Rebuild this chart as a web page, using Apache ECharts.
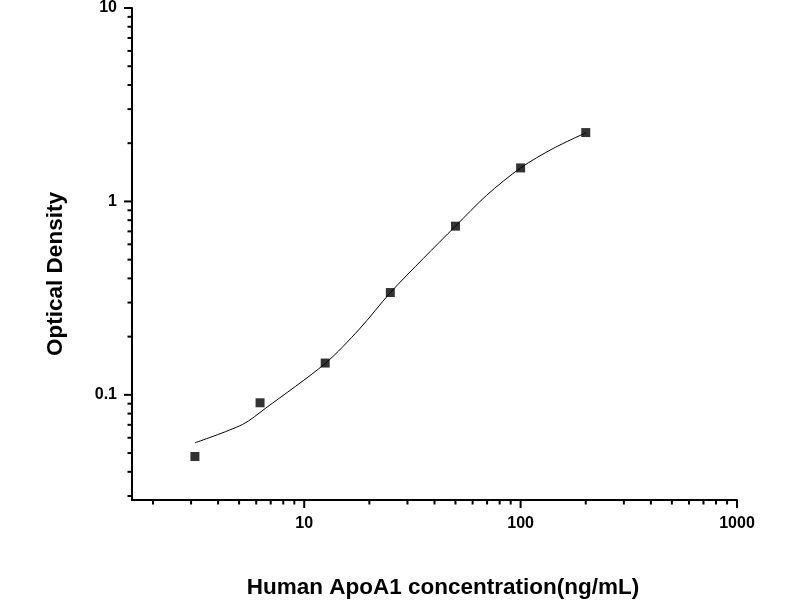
<!DOCTYPE html>
<html>
<head>
<meta charset="utf-8">
<script src="https://cdn.jsdelivr.net/npm/echarts@6/dist/echarts.min.js"></script>
<style>
  html, body { margin: 0; padding: 0; background: #fff; }
  #main { width: 800px; height: 600px; }
</style>
</head>
<body>
<div id="main"></div>
<script>
// measured standards (ng/mL) and their OD
var concentration = [3.125, 6.25, 12.5, 25, 50, 100, 200];
var opticalDensity = [0.048, 0.091, 0.146, 0.338, 0.745, 1.49, 2.27];

// fitted curve
var curveX = [3.125, 5.19, 6.61, 12.5, 18, 25, 35.5, 50, 69.8, 100, 141.6, 200];
var curveY = [0.0565, 0.0703, 0.0851, 0.1453, 0.219, 0.3376, 0.507, 0.745, 1.078, 1.49, 1.88, 2.263];

// axis ranges and tick positions
var xMin = 1.6, xMax = 1000;
var yMin = 0.0286, yMax = 10;
var xMajorTicks = [10, 100, 1000];
var xMinorTicks = [2, 3, 4, 5, 6, 7, 8, 9, 20, 30, 40, 50, 60, 70, 80, 90, 200, 300, 400, 500, 600, 700, 800, 900];
var yMajorTicks = [0.1, 1, 10];
var yMinorTicks = [0.03, 0.04, 0.05, 0.06, 0.07, 0.08, 0.09, 0.2, 0.3, 0.4, 0.5, 0.6, 0.7, 0.8, 0.9, 2, 3, 4, 5, 6, 7, 8, 9];

var myChart = echarts.init(document.getElementById('main'));

var FONT = '"Liberation Sans", Arial, sans-serif';

function decadeLabel(v) {
    var l = Math.log10(v);
    if (Math.abs(l - Math.round(l)) > 1e-6) {
        return '';
    }
    return String(+v.toPrecision(6));
}

// ticks drawn through the axes' own coordinate system
function tickSeries(values, dir, len) {
    return {
        type: 'custom',
        silent: true,
        clip: false,
        z: 5,
        data: values.map(function (v) {
            return dir === 'x' ? [v, yMin] : [xMin, v];
        }),
        renderItem: function (params, api) {
            var p = api.coord([api.value(0), api.value(1)]);
            var x2 = dir === 'x' ? p[0] : p[0] - len;
            var y2 = dir === 'x' ? p[1] + len : p[1];
            return {
                type: 'line',
                shape: { x1: p[0], y1: p[1], x2: x2, y2: y2 },
                style: { stroke: '#000', lineWidth: 2 }
            };
        }
    };
}

var option = {
    backgroundColor: '#fff',
    animation: false,
    grid: {
        left: 132,
        right: 63,
        top: 8,
        bottom: 100,
        containLabel: false,
        outerBoundsMode: 'none'
    },
    xAxis: {
        type: 'log',
        min: xMin,
        max: xMax,
        name: 'Human ApoA1 concentration(ng/mL)',
        nameLocation: 'middle',
        nameGap: 76,
        nameTextStyle: {
            fontFamily: FONT, fontWeight: 'bold', fontSize: 22.5, color: '#000',
            padding: [0, 0, 0, 17]
        },
        axisLine: { lineStyle: { color: '#000', width: 2 } },
        axisTick: { show: false },
        splitLine: { show: false },
        axisLabel: {
            margin: 16,
            fontFamily: FONT,
            fontWeight: 'bold',
            fontSize: 16,
            color: '#000',
            formatter: decadeLabel
        }
    },
    yAxis: {
        type: 'log',
        min: yMin,
        max: yMax,
        name: 'Optical Density',
        nameLocation: 'middle',
        nameGap: 65,
        nameTextStyle: {
            fontFamily: FONT, fontWeight: 'bold', fontSize: 22.5, color: '#000',
            padding: [0, 40, 0, 0]
        },
        axisLine: { lineStyle: { color: '#000', width: 2 } },
        axisTick: { show: false },
        splitLine: { show: false },
        axisLabel: {
            margin: 15,
            fontFamily: FONT,
            fontWeight: 'bold',
            fontSize: 16,
            color: '#000',
            formatter: decadeLabel
        }
    },
    series: [
        {
            name: 'fit',
            type: 'line',
            data: curveX.map(function (x, i) { return [x, curveY[i]]; }),
            showSymbol: false,
            smooth: 0.3,
            lineStyle: { color: '#000', width: 1 },
            z: 3
        },
        {
            name: 'standards',
            type: 'scatter',
            data: concentration.map(function (x, i) { return [x, opticalDensity[i]]; }),
            symbol: 'rect',
            symbolSize: 9,
            itemStyle: { color: '#000' },
            z: 4
        },
        tickSeries(xMajorTicks, 'x', 8),
        tickSeries(xMinorTicks, 'x', 4.5),
        tickSeries(yMajorTicks, 'y', 8),
        tickSeries(yMinorTicks, 'y', 4.5)
    ]
};

myChart.setOption(option);
</script>
</body>
</html>
